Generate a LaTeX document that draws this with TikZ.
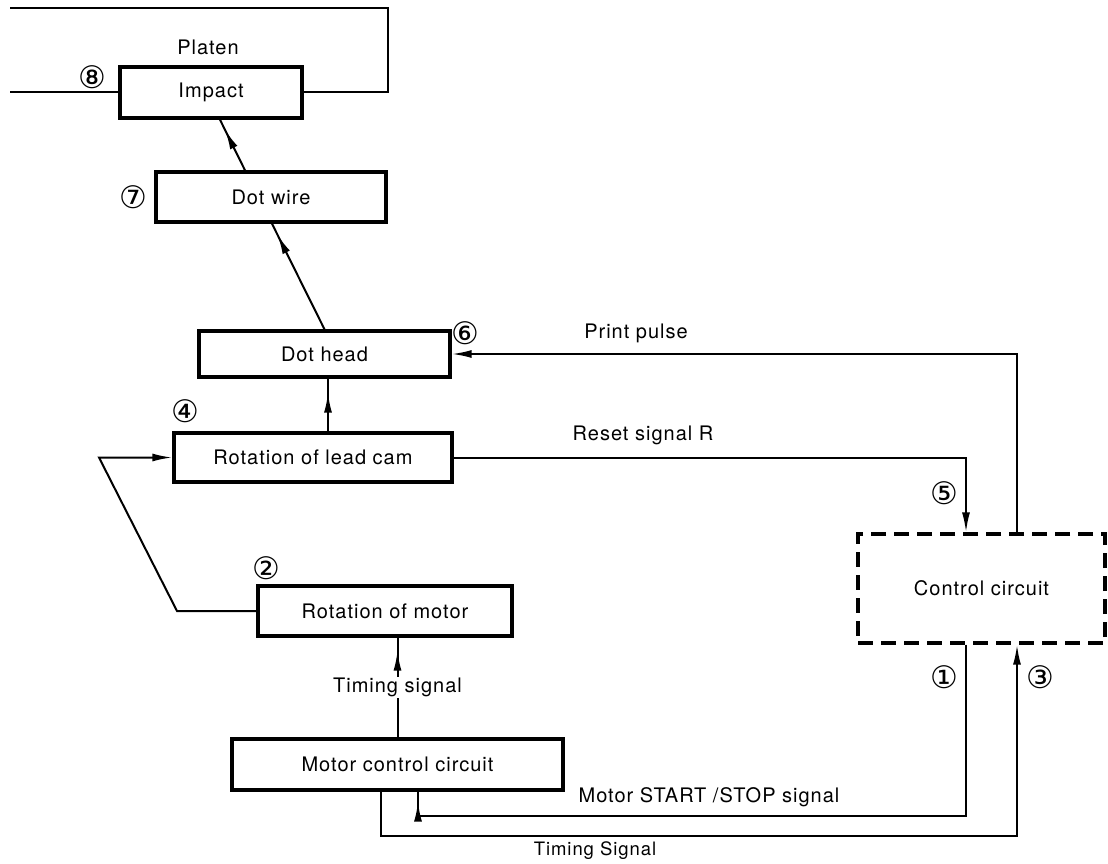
\documentclass[tikz,border=0pt]{standalone}
\usepackage{fontspec}
\setmainfont{TeX Gyre Heros}[LetterSpace=5]
\newfontfamily\circfont{DejaVu Sans}
\usetikzlibrary{arrows.meta,decorations.markings}
\begin{document}
\begin{tikzpicture}[x=1pt,y=-1pt,
  box/.style={draw,line width=3.4pt,inner sep=0pt,font=\fontsize{20}{23}\selectfont},
  dbox/.style={draw,line width=3.4pt,dash pattern=on 15pt off 8pt,inner sep=0pt,font=\fontsize{20}{23}\selectfont},
  conn/.style={line width=2pt},
  tipend/.style={conn,-{Latex[length=20pt,width=8pt]}},
  tipnear/.style={conn,postaction={decorate},decoration={markings,mark=at position #1 with {\arrow{Latex[length=20pt,width=8pt]}}}},
  lbl/.style={font=\fontsize{20}{23}\selectfont,inner sep=1pt},
  circ/.style={font=\circfont\fontsize{31}{31}\selectfont,inner sep=0pt}
]
\useasboundingbox (0,0) rectangle (1108,864);

% boxes
\node[box,minimum width=182pt,minimum height=51pt] (imp) at (211,92.5) {Impact};
\node[box,minimum width=230pt,minimum height=50pt] (dw) at (271,197) {Dot wire};
\node[box,minimum width=251pt,minimum height=46pt] (dh) at (324.5,354) {Dot head};
\node[box,minimum width=278pt,minimum height=49pt] (lc) at (313,457.5) {Rotation of lead cam};
\node[box,minimum width=254pt,minimum height=50pt] (mot) at (385,611) {Rotation of motor};
\node[box,minimum width=331pt,minimum height=51pt] (mc) at (397.5,764.5) {Motor control circuit};
\node[dbox,minimum width=247pt,minimum height=109pt] (cc) at (981.5,588.5) {Control circuit};

% coordinates
\coordinate (tl) at (10,8);
\coordinate (tr) at (388,8);
\coordinate (ll) at (10,92.5);
\coordinate (lp1) at (177,611);
\coordinate (lp2) at (99,457.5);
\coordinate (rs1) at (966,457.5);
\coordinate (pp1) at (1017,354);
\coordinate (ss1) at (966,816);
\coordinate (ss2) at (418,816);
\coordinate (ts1) at (381,836);
\coordinate (ts2) at (1017,836);

% platen loop
\draw[conn] (tl) -- (tr) |- (imp.east);
\draw[conn] (ll) -- (imp.west);

% upward arrows
\draw[tipnear=-11pt] ([xshift=-26pt]dw.north) -- ([xshift=9pt]imp.south);
\draw[tipnear=-12pt] (dh.north) -- ([xshift=1pt]dw.south);
\draw[tipnear=-14pt] ([xshift=15pt]lc.north) -- ([xshift=15pt]lc.north |- dh.south);

% left loop
\draw[tipend] (mot.west) -- (lp1) -- (lp2) -- (lc.west);

% timing signal (motor)
\draw[tipnear=-13pt] (mc.north) -- (mc.north |- mot.south)
  node[lbl,pos=0.5,fill=white] (tsl) {Timing signal};

% reset signal
\draw[tipend] (lc.east) -- (rs1) -- (rs1 |- cc.north);

% print pulse
\draw[tipend] (pp1 |- cc.north) -- (pp1) -- (dh.east);

% motor start/stop
\draw[tipnear=-10pt] (ss1 |- cc.south) -- (ss1) -- (ss2) -- (ss2 |- mc.south);

% timing signal to control
\draw[tipend] (ts1 |- mc.south) -- (ts1) -- (ts2) -- (ts2 |- cc.south);

% labels
\node[lbl] (platen) at (208,47) {Platen};
\node[lbl] (pplbl) at (636,333) {Print pulse};
\node[lbl] (rslbl) at (643,435) {Reset signal R};
\node[lbl] (sslbl) at (709,797) {Motor START /STOP signal};
\node[lbl,font=\fontsize{18.5}{20}\selectfont] (tslbl) at (595,851) {Timing Signal};

% circled numbers
\node[circ] (n8) at (92,77) {⑧};
\node[circ] (n7) at (133,197) {⑦};
\node[circ] (n6) at (465,333) {⑥};
\node[circ] (n4) at (185,411) {④};
\node[circ] (n5) at (944,493) {⑤};
\node[circ] (n2) at (266,568) {②};
\node[circ] (n1) at (944,677) {①};
\node[circ] (n3) at (1040,677) {③};
\end{tikzpicture}
\end{document}
